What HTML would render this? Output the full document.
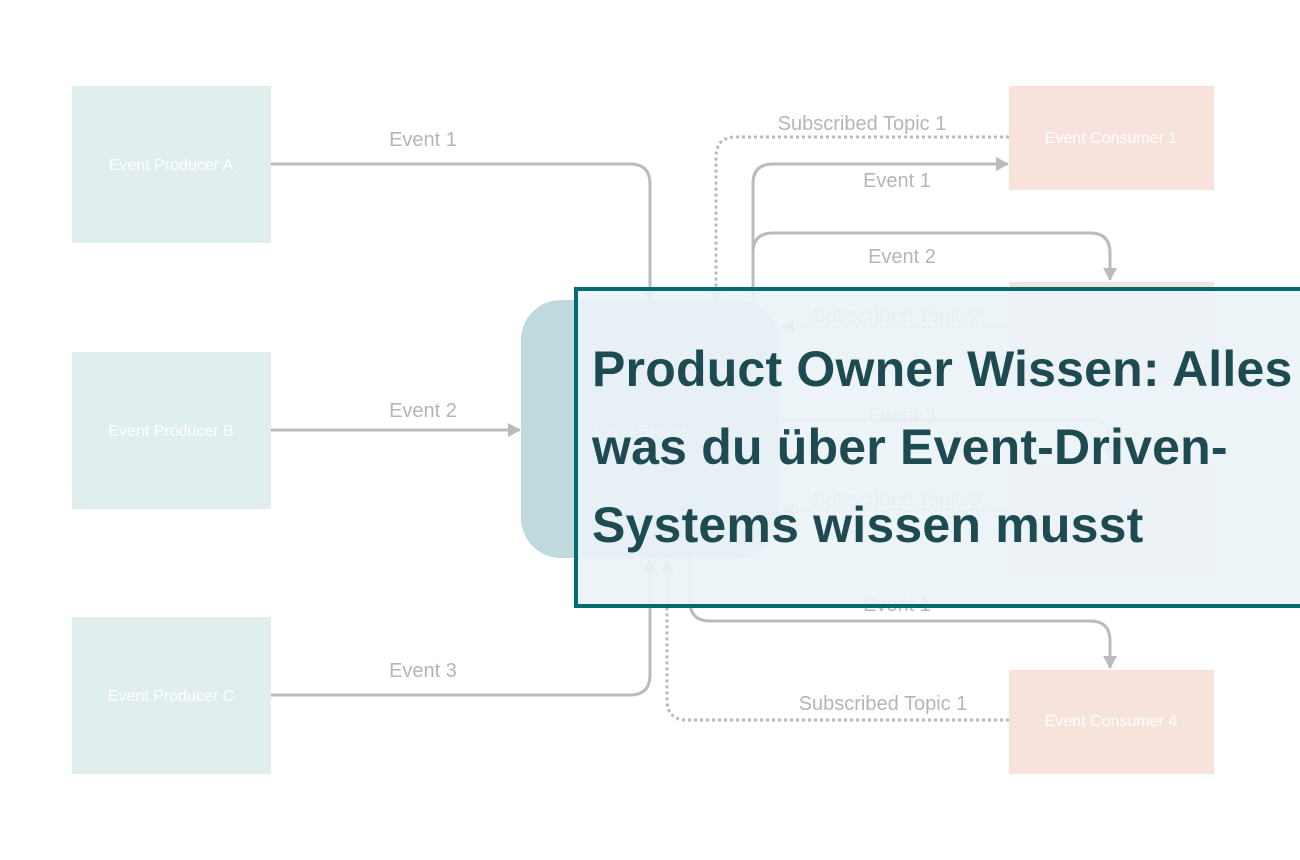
<!DOCTYPE html>
<html><head><meta charset="utf-8"><style>
html,body{margin:0;padding:0;background:#fff;width:1300px;height:860px;overflow:hidden;font-family:"Liberation Sans",sans-serif}
svg{position:absolute;left:0;top:0}
.ov{position:absolute;left:574px;top:287px;width:740px;height:313px;border:4px solid #006b70;background:rgba(234,243,246,0.92);box-sizing:content-box}
.ov div{position:absolute;left:14px;top:39px;font-weight:bold;font-size:50px;line-height:78px;color:#1e4a52;letter-spacing:0.2px;white-space:nowrap}
</style></head><body>
<svg width="1300" height="860" viewBox="0 0 1300 860">
<defs><marker id="b" markerWidth="14" markerHeight="14" refX="12" refY="7" orient="auto" markerUnits="userSpaceOnUse"><path d="M0,0 L13,7 L0,14 z" fill="#bbb"/></marker></defs>
<g fill="#e0efee"><rect x="72" y="86" width="199" height="157"/><rect x="72" y="352" width="199" height="157"/><rect x="72" y="617" width="199" height="157"/></g>
<g fill="#f7e3dc"><rect x="1009" y="86" width="205" height="104"/><rect x="1009" y="282" width="205" height="104"/><rect x="1009" y="462" width="205" height="115"/><rect x="1009" y="670" width="205" height="104"/></g>
<rect x="521" y="300" width="258" height="258" rx="40" fill="#bfd9dc"/>
<g fill="none" stroke="#bbb" stroke-width="3">
<path d="M271,164 H630 Q650,164 650,184 V300" marker-end="url(#b)"/>
<path d="M271,430 H520" marker-end="url(#b)"/>
<path d="M271,695 H630 Q650,695 650,675 V560" marker-end="url(#b)"/>
<path d="M753,300 V184 Q753,164 773,164 H1008" marker-end="url(#b)"/>
<path d="M753,300 V253 Q753,233 773,233 H1090 Q1110,233 1110,253 V280" marker-end="url(#b)"/>
<path d="M690,558 V601 Q690,621 710,621 H1090 Q1110,621 1110,641 V668" marker-end="url(#b)"/>
<path d="M779,420 H1090 Q1110,420 1110,440 V460" marker-end="url(#b)"/>
</g>
<g fill="none" stroke="#bbb" stroke-width="3" stroke-dasharray="3,3">
<path d="M1009,137 H736 Q716,137 716,157 V300" marker-end="url(#b)"/>
<path d="M1009,720 H687 Q667,720 667,700 V560" marker-end="url(#b)"/>
<path d="M1009,327 H782" marker-end="url(#b)"/>
<path d="M1009,510 H782" marker-end="url(#b)"/>
</g>
<g fill="#b5b5b5" font-size="20" text-anchor="middle">
<text x="423" y="146">Event 1</text><text x="423" y="417">Event 2</text><text x="423" y="677">Event 3</text>
<text x="862" y="130">Subscribed Topic 1</text><text x="897" y="187">Event 1</text><text x="902" y="263">Event 2</text>
<text x="897" y="322">Subscribed Topic 2</text><text x="902" y="422">Event 3</text><text x="897" y="506">Subscribed Topic 3</text>
<text x="897" y="611">Event 1</text><text x="883" y="710">Subscribed Topic 1</text>
</g>
<g fill="#fff" font-size="16" text-anchor="middle">
<text x="171" y="170">Event Producer A</text><text x="171" y="436">Event Producer B</text><text x="171" y="701">Event Producer C</text>
<text x="1111" y="143">Event Consumer 1</text><text x="1111" y="338">Event Consumer 2</text><text x="1111" y="525">Event Consumer 3</text><text x="1111" y="726">Event Consumer 4</text>
<text x="640" y="436">Event Broker</text>
</g>
</svg>
<div class="ov"><div>Product Owner Wissen: Alles<br>was du über Event-Driven-<br>Systems wissen musst</div></div>
</body></html>
